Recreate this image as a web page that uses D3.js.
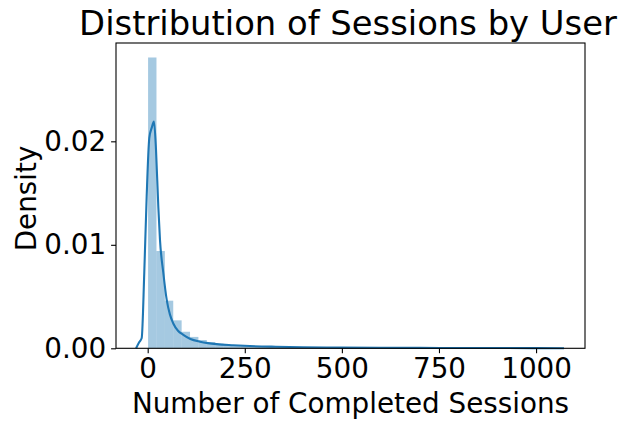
<!DOCTYPE html>
<html>
<head>
<meta charset="utf-8">
<script src="https://cdn.jsdelivr.net/npm/d3@7"></script>
<style>
  html, body { margin: 0; padding: 0; background: #ffffff; }
  svg text { font-family: "DejaVu Sans", sans-serif; fill: #000; }
</style>
</head>
<body>
<svg id="chart" width="620" height="423"></svg>
<script>
// Histogram of completed sessions per user (density-normalised), 50 equal bins
const binStart = 1;
const binWidth = 21.6;
const histDensity = [
  0.0281, 0.0094, 0.0046, 0.0027, 0.0016, 0.0011, 0.0008, 0.0006, 0.00045, 0.00035,
  0.0003, 0.00025, 0.0002, 0.00018, 0.00015, 0.00013, 0.00011, 0.0001, 0.00009, 0.00008,
  0.00007, 0.00006, 0.00006, 0.00005, 0.00005, 0.00004, 0.00004, 0.00004, 0.00003, 0.00003,
  0.00003, 0.00003, 0.00002, 0.00002, 0.00002, 0.00002, 0.00002, 0.00002, 0.00002, 0.00001,
  0.00001, 0.00001, 0.00001, 0.00001, 0.00001, 0.00001, 0.00001, 0.00001, 0, 0.00001
];

// Kernel density estimate of the same sample
const kdeX = [-30, -21.6, -15.4, -8.8, -2.6, 4.1, 10.3, 16.2, 21.4, 27.3, 31.6, 40.2, 48.9, 57, 65.9,
  78, 91.7, 110, 134.7, 155, 177.6, 220, 263, 330, 400, 500, 600, 700, 800, 900, 1000, 1072];
const kdeY = [0, 0.0006, 0.001, 0.0073, 0.0147, 0.0203, 0.0213, 0.0219, 0.0192, 0.0137, 0.0105,
  0.0073, 0.0047, 0.0033, 0.0024, 0.0017, 0.0013, 0.0009, 0.00064, 0.0005, 0.0004, 0.0003,
  0.00022, 0.00015, 0.0001, 0.00007, 0.00005, 0.00004, 0.00003, 0.00003, 0.00002, 0.00001];

const xTicks = [0, 250, 500, 750, 1000];
const yTicks = [0.00, 0.01, 0.02];

const titleText = "Distribution of Sessions by User";
const xLabel = "Number of Completed Sessions";
const yLabel = "Density";

const box = { left: 116, right: 585, top: 43, bottom: 348.3 };
const svg = d3.select("#chart");

const x = d3.scaleLinear().domain([-81.6, 1126]).range([box.left, box.right]);
const y = d3.scaleLinear().domain([0, 0.0295]).range([box.bottom, box.top]);

const bins = histDensity.map((d, i) => ({
  x0: binStart + i * binWidth,
  x1: binStart + (i + 1) * binWidth,
  d: d
}));

const plot = svg.append("g");

plot.selectAll("rect.bar")
  .data(bins)
  .join("rect")
  .attr("class", "bar")
  .attr("x", b => x(b.x0))
  .attr("width", b => x(b.x1) - x(b.x0))
  .attr("y", b => y(b.d))
  .attr("height", b => y(0) - y(b.d))
  .attr("fill", "#1f77b4")
  .attr("fill-opacity", 0.4);

const kde = kdeX.map((v, i) => [v, kdeY[i]]);
plot.append("path")
  .datum(kde)
  .attr("fill", "none")
  .attr("stroke", "#1f77b4")
  .attr("stroke-width", 2.1)
  .attr("stroke-linejoin", "round")
  .attr("d", d3.line().x(d => x(d[0])).y(d => y(d[1])).curve(d3.curveMonotoneX));

// Axes frame
svg.append("rect")
  .attr("x", box.left).attr("y", box.top)
  .attr("width", box.right - box.left).attr("height", box.bottom - box.top)
  .attr("fill", "none").attr("stroke", "#000").attr("stroke-width", 1.1);

const xAxis = d3.axisBottom(x).tickValues(xTicks).tickSize(4.9).tickPadding(4.9).tickFormat(d3.format("d"));
const gx = svg.append("g").attr("transform", `translate(0,${box.bottom})`).call(xAxis);
gx.select(".domain").remove();
gx.selectAll(".tick line").attr("stroke", "#000").attr("stroke-width", 1.1);
gx.selectAll(".tick text").attr("font-size", 27.8).attr("font-family", "DejaVu Sans").attr("fill", "#000");

const yAxis = d3.axisLeft(y).tickValues(yTicks).tickSize(4.9).tickPadding(4.9).tickFormat(d3.format(".2f"));
const gy = svg.append("g").attr("transform", `translate(${box.left},0)`).call(yAxis);
gy.select(".domain").remove();
gy.selectAll(".tick line").attr("stroke", "#000").attr("stroke-width", 1.1);
gy.selectAll(".tick text").attr("font-size", 27.8).attr("font-family", "DejaVu Sans").attr("fill", "#000");

svg.append("text")
  .attr("x", 348).attr("y", 34.7)
  .attr("text-anchor", "middle").attr("font-size", 33.8)
  .text(titleText);

svg.append("text")
  .attr("x", (box.left + box.right) / 2).attr("y", 413)
  .attr("text-anchor", "middle").attr("font-size", 27.8)
  .text(xLabel);

svg.append("text")
  .attr("transform", "translate(36,198.5) rotate(-90)")
  .attr("text-anchor", "middle").attr("font-size", 27.8)
  .text(yLabel);
</script>
</body>
</html>
